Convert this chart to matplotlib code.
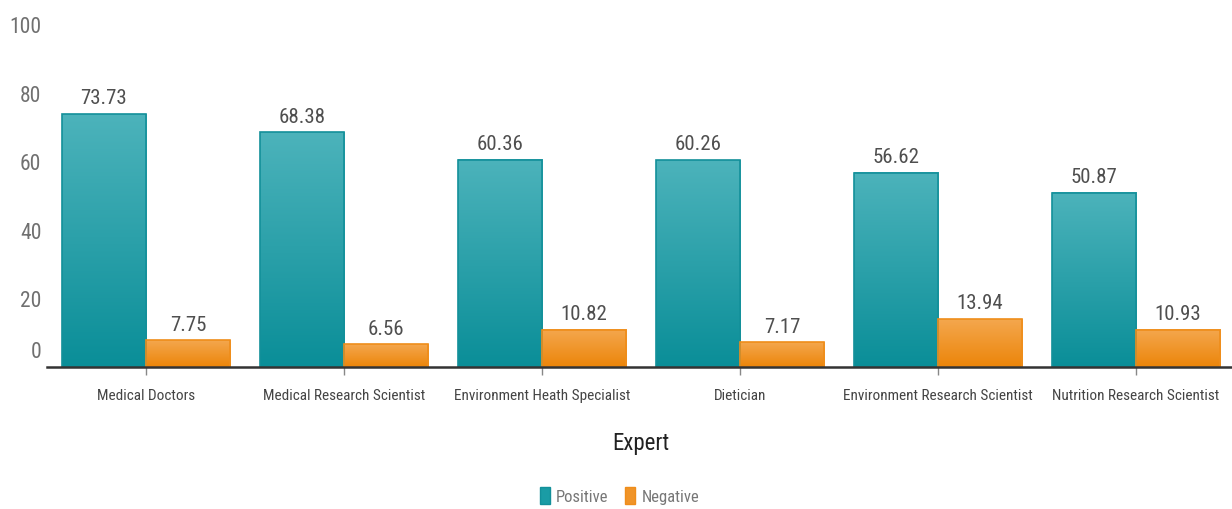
import matplotlib
matplotlib.use("Agg")
import matplotlib.pyplot as plt
from matplotlib.colors import LinearSegmentedColormap
from matplotlib.patches import Patch
from matplotlib.transforms import ScaledTranslation
import numpy as np

plt.rcParams['font.family'] = ['Roboto Condensed', 'Roboto', 'DejaVu Sans']

experts = ["Medical Doctors", "Medical Research Scientist", "Environment Heath Specialist",
           "Dietician", "Environment Research Scientist", "Nutrition Research Scientist"]
positive = [73.73, 68.38, 60.36, 60.26, 56.62, 50.87]
negative = [7.75, 6.56, 10.82, 7.17, 13.94, 10.93]

teal_cm = LinearSegmentedColormap.from_list("teal", ["#0a8e98", "#4cb3bb"])
orange_cm = LinearSegmentedColormap.from_list("orange", ["#ec8509", "#f4a74e"])
grad = np.linspace(0, 1, 256).reshape(-1, 1)

fig = plt.figure(figsize=(12.32, 5.10), dpi=100)
ax = fig.add_axes([47 / 1232, 142 / 510, 1188 / 1232, 343 / 510])

x = np.arange(len(experts))
w = 0.425


def gradient_bars(xs, vals, cmap, edge):
    bars = ax.bar(xs, vals, w, facecolor="none", edgecolor=edge, linewidth=1.2, zorder=3)
    for b in bars:
        x0 = b.get_x()
        ax.imshow(grad, cmap=cmap, aspect="auto", origin="lower",
                  extent=(x0, x0 + b.get_width(), 0, b.get_height()), zorder=2)
    for b, v in zip(bars, vals):
        ax.text(b.get_x() + b.get_width() / 2, v + 2.0, f"{v:.2f}", ha="center", va="bottom",
                fontsize=15, color="#4f4f4f")
    return bars


gradient_bars(x - w / 2, positive, teal_cm, "#13909a")
gradient_bars(x + w / 2, negative, orange_cm, "#ef8d1a")

ax.set_xlim(-0.5, len(experts) - 0.5)
ax.set_ylim(0, 100)
ax.set_yticks([0, 20, 40, 60, 80, 100])
ax.set_xticks(x)
ax.set_xticklabels(experts, fontsize=11, color="#444444")
ax.tick_params(axis="x", length=6, width=1, color="#888888", pad=9)
ax.tick_params(axis="y", length=0, labelsize=15.5, labelcolor="#707070", pad=4)

# the zero label sits a bit above the baseline
zl = ax.yaxis.get_major_ticks()[0].label1
zl.set_transform(zl.get_transform() + ScaledTranslation(0, 0.18, fig.dpi_scale_trans))

for s in ["top", "right", "left"]:
    ax.spines[s].set_visible(False)
ax.spines["bottom"].set_color("#333333")
ax.spines["bottom"].set_linewidth(1.8)
ax.spines["bottom"].set_zorder(4)

ax.set_xlabel("Expert", fontsize=16.5, color="#222222", labelpad=21)

handles = [Patch(facecolor="#1a9ca5", edgecolor="#13909a", label="Positive"),
           Patch(facecolor="#f09428", edgecolor="#ef8d1a", label="Negative")]
fig.legend(handles=handles, loc="center", bbox_to_anchor=(0.503, 0.026), ncol=2, frameon=False,
           fontsize=12, labelcolor="#777777", handlelength=0.6, handleheight=1.2,
           handletextpad=0.4, columnspacing=1.0)

fig.savefig("out.png", dpi=100)
